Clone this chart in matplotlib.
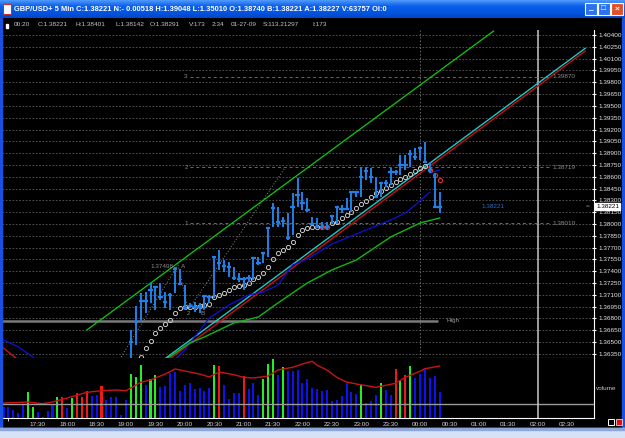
import numpy as np
import matplotlib.pyplot as plt
from matplotlib.patches import Rectangle
from matplotlib.colors import LinearSegmentedColormap

plt.rcParams['font.family'] = ['Liberation Sans Narrow', 'Liberation Sans', 'DejaVu Sans']

# GBP/USD+ 5 min bars, index 0 = 16:55, last index 89 = 00:20
bar_idx = list(range(26, 90))
bar_high = [1.36654, 1.36959, 1.37124, 1.37136, 1.37251, 1.37213, 1.37251, 1.37136, 1.37124, 1.37454,
            1.37428, 1.37225, 1.36997, 1.37009, 1.36997, 1.37098, 1.37098, 1.37594, 1.37670, 1.37543,
            1.37517, 1.37454, 1.37378, 1.37327, 1.37352, 1.37581, 1.37581, 1.37644, 1.37962, 1.38267,
            1.38216, 1.38089, 1.38140, 1.38394, 1.38584, 1.38406, 1.38330, 1.38089, 1.38076, 1.38025,
            1.38025, 1.38114, 1.38216, 1.38241, 1.38330, 1.38406, 1.38406, 1.38724, 1.38724, 1.38711,
            1.38597, 1.38521, 1.38559, 1.38711, 1.38686, 1.38876, 1.38876, 1.38940, 1.38965, 1.38978,
            1.39041, 1.38787, 1.38648, 1.38401]
bar_low = [1.36247, 1.36463, 1.36755, 1.36870, 1.36997, 1.36908, 1.37035, 1.36933, 1.36908, 1.37124,
           1.37225, 1.36908, 1.36933, 1.36882, 1.36870, 1.36908, 1.36997, 1.37060, 1.37416, 1.37390,
           1.37327, 1.37289, 1.37263, 1.37162, 1.37263, 1.37289, 1.37479, 1.37505, 1.37581, 1.37962,
           1.37962, 1.37962, 1.37797, 1.37860, 1.38216, 1.38178, 1.38152, 1.37987, 1.37949, 1.37924,
           1.37924, 1.38013, 1.38013, 1.38140, 1.38178, 1.38152, 1.38343, 1.38343, 1.38559, 1.38521,
           1.38330, 1.38343, 1.38470, 1.38495, 1.38622, 1.38622, 1.38686, 1.38724, 1.38813, 1.38813,
           1.38787, 1.38648, 1.38203, 1.38142]
bar_close = [1.36501, 1.36755, 1.37022, 1.37022, 1.37162, 1.37200, 1.37073, 1.37009, 1.37098, 1.37428,
             1.37238, 1.36933, 1.36959, 1.36946, 1.36946, 1.37086, 1.37073, 1.37581, 1.37505, 1.37467,
             1.37454, 1.37314, 1.37301, 1.37301, 1.37314, 1.37568, 1.37505, 1.37632, 1.37949, 1.38203,
             1.38025, 1.38038, 1.37822, 1.38216, 1.38368, 1.38267, 1.38178, 1.38000, 1.37962, 1.37962,
             1.37962, 1.38102, 1.38216, 1.38191, 1.38191, 1.38406, 1.38406, 1.38597, 1.38673, 1.38597,
             1.38343, 1.38521, 1.38521, 1.38660, 1.38660, 1.38749, 1.38749, 1.38889, 1.38851, 1.38965,
             1.38787, 1.38686, 1.38216, 1.38221]

# parabolic SAR dots
sar_idx = list(range(28, 90))
sar = [1.36315, 1.36421, 1.36520, 1.36616, 1.36679, 1.36730, 1.36781, 1.36874, 1.36929, 1.36950,
       1.36950, 1.36950, 1.36959, 1.36971, 1.36984, 1.37069, 1.37094, 1.37128, 1.37162, 1.37196,
       1.37216, 1.37225, 1.37247, 1.37298, 1.37331, 1.37382, 1.37458, 1.37555, 1.37628, 1.37670,
       1.37712, 1.37775, 1.37860, 1.37924, 1.37953, 1.37966, 1.37966, 1.37962, 1.37962, 1.38013,
       1.38029, 1.38076, 1.38114, 1.38156, 1.38203, 1.38254, 1.38296, 1.38347, 1.38394, 1.38419,
       1.38457, 1.38495, 1.38537, 1.38572, 1.38601, 1.38635, 1.38677, 1.38711, 1.38737, 1.38686,
       1.38622, 1.38559]
sar_red = [65, 66, 87, 88, 89]

# volume
vol = [10.7, 11.3, 8, 5, 13.3, 25.7, 10.7, 5.7, 1, 6.7,
       13, 21.3, 20.7, 9.7, 19.7, 25, 21.3, 27.3, 21.7, 23,
       32.3, 18, 20.7, 21.3, 3, 18, 44, 40.7, 53.3, 33.3,
       39, 43.3, 30.7, 32.3, 45, 45.7, 26.7, 33.3, 34.7, 29.5,
       30, 26.7, 30, 53.5, 52, 33.3, 19.3, 25.3, 25.3, 42,
       29.3, 34.7, 22.7, 39.3, 54, 58.7, 42.7, 50.7, 47.3, 46.7,
       48, 34.7, 39.3, 30, 29.3, 26.7, 28, 17.3, 18, 22,
       35.3, 26, 24, 33.3, 15.3, 17.3, 22.7, 35.3, 28, 23.3,
       48.7, 38.3, 42.7, 51.7, 40.5, 44.5, 49, 40.5, 42, 26]
vol_col = ('bbbbbggbbb' 'bgrbgrrrbb' 'rbbbbbgggb' 'ggbbbbbbbb' 'bbbgrbbbbr'
           'bbbgggbgbb' 'bbbbbbbbbb' 'bbbgbbbgbb' 'rgrgbbbbbb')
vma_x = [0, 5, 8, 10, 13, 17, 20, 23, 25, 28, 30, 33, 35, 37, 40, 42, 44, 47, 49, 51,
         54, 56, 59, 61, 63, 64, 66, 68, 70, 72, 76, 78, 80, 82, 85, 86, 89]
vma_y = [15, 16, 14.3, 16, 20, 25.7, 27.3, 28, 27.3, 35.7, 38, 44, 49, 47, 44, 41, 46, 43.3, 40.7, 40,
         42, 48, 50.7, 54, 56.7, 52.7, 48, 40.7, 36, 34, 30.7, 32.7, 34.7, 40.7, 46.7, 49.3, 52]
vol_level = 13.7

# indicator lines
ma_blue_x = [35, 37, 39, 42, 46, 50, 53, 56, 59, 62, 67, 71, 75, 79, 82, 84, 87]
ma_blue_y = [1.36273, 1.36400, 1.36565, 1.36806, 1.36971, 1.37098, 1.37136, 1.37225, 1.37479,
             1.37555, 1.37746, 1.37848, 1.37949, 1.38051, 1.38140, 1.38241, 1.38406]
ma_blue2_x = [87, 89]
ma_blue2_y = [1.38648, 1.38686]
ma_green_x = [33, 38, 41, 47, 52, 56, 62, 67, 72, 79, 85, 89]
ma_green_y = [1.36273, 1.36489, 1.36565, 1.36743, 1.36819, 1.36997, 1.37251, 1.37416, 1.37543,
              1.37835, 1.38013, 1.38076]
tail_blue_x = [0, 3, 6]
tail_blue_y = [1.36527, 1.36440, 1.36311]
tail_red_x = [0, 2.5]
tail_red_y = [1.36425, 1.36298]

chan_x = [17, 100]
chan_y = [1.36654, 1.40451]
cyan_x = [32.6, 118.7]
cyan_y = [1.36273, 1.40231]
red_x = [33.6, 118.7]
red_y = [1.36273, 1.40197]
abc_x = [24, 35.6, 37.7, 57.4]
abc_y = [1.36311, 1.37479, 1.36908, 1.38711]

fib_levels = [1.39870, 1.38719, 1.38010]
fib_names = ['3', '2', '1']
high_level = 1.36768
last_price = 1.38221

price_ticks = np.arange(1.3635, 1.40401, 0.0015)
time_idx = list(range(7, 116, 6))
time_labels = ['17:30', '18:00', '18:30', '19:00', '19:30', '20:00', '20:30', '21:00', '21:30',
               '22:00', '22:30', '23:00', '23:30', '00:00', '00:30', '01:00', '01:30', '02:00', '02:30']

W, H = 625, 438
X0, X1 = -0.31, 120.5
Y0, Y1 = 1.36298, 1.40464


def box(x0, y0, x1, y1):
    return [x0 / W, 1 - y1 / H, (x1 - x0) / W, (y1 - y0) / H]


fig = plt.figure(figsize=(W / 100, H / 100), dpi=100, facecolor='black')
renderer = fig.canvas.get_renderer()


def size_for(s, width_px, **kw):
    # font size that makes text s about width_px wide
    t = fig.text(0, 0, s, fontsize=10, **kw)
    w = t.get_window_extent(renderer).width
    t.remove()
    return 10 * width_px / w


fs = size_for('1.40400', 23)
fs_title = size_for('GBP/USD+ 5 Min C:1.38221 N:- 0.00518 H:1.39048 L:1.35010 O:1.38740 '
                    'B:1.38221 A:1.38227 V:63757 OI:0', 375, fontweight='bold')
fs_info = size_for('S:113.21297', 36)

ax = fig.add_axes(box(2, 30, 594, 358), facecolor='black')
axv = fig.add_axes(box(2, 358, 594, 418), facecolor='black')

# ---- price panel ----
ax.set_xlim(X0, X1)
ax.set_ylim(Y0, Y1)
ax.yaxis.tick_right()
ax.set_yticks(price_ticks)
ax.set_yticklabels([f'{t:.5f}' for t in price_ticks])
ax.set_xticks([])
ax.tick_params(axis='y', direction='inout', length=3, color='white', labelcolor='#e6e6e6',
               labelsize=fs, pad=1.5)
ax.grid(axis='y', color='#5c5c5c', ls=(0, (2, 2)), lw=0.6)
for s in ['top', 'left']:
    ax.spines[s].set_visible(False)
for s in ['bottom', 'right']:
    ax.spines[s].set_color('white')

ax.axvline(85, color='#6a6a6a', ls=(0, (1.5, 2)), lw=0.7)
ax.axvline(109, color='#c8c8c8', lw=1.1)
ax.hlines(high_level, X0, 88.7, color='#7a7a7a', lw=1.8)
ax.text(90.3, high_level, 'High', color='#9a9a9a', fontsize=fs, va='center')

ax.hlines(fib_levels, 38.1, 111.5, color='#6a6a6a', lw=0.7, ls=(0, (3, 3)))
for lvl, name in zip(fib_levels, fib_names):
    ax.text(37.6, lvl, name, color='#8a8a8a', fontsize=fs, ha='right', va='center')
    ax.text(112, lvl, f'{lvl:.5f}', color='#8a8a8a', fontsize=fs, va='center')

ax.plot(abc_x, abc_y, color='#8a8a8a', ls=(0, (1, 2)), lw=0.7)
ax.text(29.9, 1.37454, '1.37498', color='#8a8a8a', fontsize=fs, va='center')
ax.text(36.2, 1.37454, 'A', color='#8a8a8a', fontsize=fs, va='center')
ax.text(37.4, 1.36857, '2', color='#8a8a8a', fontsize=fs, va='center')
ax.text(40.1, 1.36857, 'B', color='#8a8a8a', fontsize=fs, va='center')

ax.plot(chan_x, chan_y, color='#10c810', lw=0.9)
ax.plot(red_x, red_y, color='#c81010', lw=1.0)
ax.plot(cyan_x, cyan_y, color='#20c8c8', lw=1.0)
ax.plot(ma_blue_x, ma_blue_y, color='#1010d8', lw=0.9)
ax.plot(ma_blue2_x, ma_blue2_y, color='#1010d8', lw=0.9)
ax.plot(ma_green_x, ma_green_y, color='#10b810', lw=1.0)
ax.plot(tail_blue_x, tail_blue_y, color='#1010d8', lw=0.9)
ax.plot(tail_red_x, tail_red_y, color='#c81010', lw=1.0)

sar_x_w = [i for i in sar_idx if i not in sar_red]
sar_y_w = [v for i, v in zip(sar_idx, sar) if i not in sar_red]
sar_x_r = [i for i in sar_idx if i in sar_red]
sar_y_r = [v for i, v in zip(sar_idx, sar) if i in sar_red]
ax.plot(sar_x_w, sar_y_w, 'o', mfc='none', mec='#c8c8c8', ms=3.0, mew=0.7)
ax.plot(sar_x_r, sar_y_r, 'o', mfc='none', mec='#e03030', ms=3.0, mew=0.8)

bx = np.array(bar_idx)
ax.vlines(bx, bar_low, bar_high, color='#2080e8', lw=1.4)
ax.hlines(bar_close, bx - 0.45, bx + 0.45, color='#2080e8', lw=1.6)

ax.text(99.9, last_price, '1.38221', color='#2a6cc8', fontsize=fs, ha='center', va='center')
ax.text(1.004, last_price, '1.38221', transform=ax.get_yaxis_transform(), fontsize=fs,
        color='black', va='center', zorder=6,
        bbox=dict(facecolor='white', edgecolor='white', pad=0.8))
ax.text(0.986, last_price, '=◦', transform=ax.get_yaxis_transform(), fontsize=fs * 0.8,
        color='#a0a0a0', va='center')

# ---- volume panel ----
cmap_vol = {'b': '#1010f0', 'g': '#20f020', 'r': '#f01818'}
axv.set_xlim(X0, X1)
axv.set_ylim(0, 60)
axv.bar(range(len(vol)), vol, width=0.42, color=[cmap_vol[c] for c in vol_col])
axv.plot(vma_x, vma_y, color='#c81414', lw=1.0)
axv.axhline(vol_level, color='#9a9a9a', lw=1.0)
axv.axvline(109, color='#c8c8c8', lw=1.1)
axv.set_yticks([])
axv.set_xticks(time_idx)
axv.set_xticklabels(time_labels)
axv.set_xticks([1], minor=True)
axv.tick_params(axis='x', which='major', length=0, labelcolor='#d8d8d8', labelsize=fs, pad=3)
axv.tick_params(axis='x', which='minor', length=2.5, color='white')
axv.spines['top'].set_visible(False)
axv.spines['left'].set_visible(False)
for s in ['bottom', 'right']:
    axv.spines[s].set_color('white')

# ---- window frame ----
ov = fig.add_axes([0, 0, 1, 1], zorder=5)
cmap_title = LinearSegmentedColormap.from_list('xp', ['#4a96fa', '#0c5fea', '#0456e2', '#0148c8'])
ov.imshow(np.linspace(0, 1, 18).reshape(-1, 1), extent=(0, W, 18, 0), aspect='auto', cmap=cmap_title)
ov.set_xlim(0, W)
ov.set_ylim(H, 0)
ov.axis('off')
ov.add_patch(Rectangle((0, 18), 2, 410, color='#1a50e0'))
ov.add_patch(Rectangle((622, 18), 3, 410, color='#1a50e0'))
ov.add_patch(Rectangle((0, 428), W, 10, color='#d8e2f6'))
ov.add_patch(Rectangle((0, 428), W, 1.5, color='#8ea6d8'))
ov.add_patch(Rectangle((3, 4), 8, 10, fc='white', ec='#c03030', lw=0.8))
for x0, fc, g in [(585, '#2b72f2', '_'), (598, '#2b72f2', '□'), (611, '#e0502a', '×')]:
    ov.add_patch(Rectangle((x0, 3), 11.5, 12, fc=fc, ec='white', lw=0.8))
    ov.text(x0 + 5.75, 9, g, color='white', fontsize=6, ha='center', va='center', fontweight='bold')
ov.text(14, 9.5, 'GBP/USD+ 5 Min C:1.38221 N:- 0.00518 H:1.39048 L:1.35010 O:1.38740 '
        'B:1.38221 A:1.38227 V:63757 OI:0', color='white', fontsize=fs_title, fontweight='bold',
        va='center')

info = [(14, '00:20'), (38, 'C:1.38221'), (76, 'H:1.38401'), (115, 'L:1.38142'), (150, 'O:1.38291'),
        (189, 'V:173'), (212, '2:34'), (231, '01-27-09'), (263, 'S:113.21297'), (312, 'I:173')]
for x, s in info:
    ov.text(x, 24.5, s, color='#c4c4c4', fontsize=fs_info, va='center')
ov.add_patch(Rectangle((6, 24), 1.5, 4, color='white'))
ov.text(596, 389, 'volume', color='#c8c8c8', fontsize=fs, va='center')
ov.add_patch(Rectangle((608, 419), 6, 6, fc='none', ec='white', lw=0.7))
ov.add_patch(Rectangle((615.5, 419), 6, 6, fc='#e01010', ec='white', lw=0.5))

fig.savefig('out.png', dpi=100, facecolor='black')
